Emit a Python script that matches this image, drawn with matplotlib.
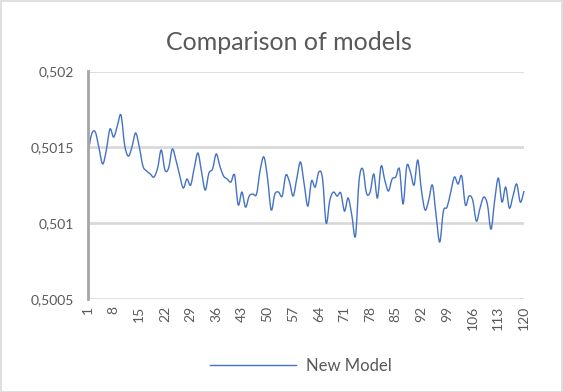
import matplotlib
matplotlib.use("Agg")
import matplotlib.pyplot as plt
from matplotlib.path import Path
from matplotlib.patches import PathPatch, Rectangle
from matplotlib.ticker import FuncFormatter, FixedLocator
from matplotlib.lines import Line2D
import numpy as np

title = "Comparison of models"
series_name = "New Model"
x_ticks = [1, 8, 15, 22, 29, 36, 43, 50, 57, 64, 71, 78, 85, 92, 99, 106, 113, 120]
y_ticks = [0.5005, 0.501, 0.5015, 0.502]

values = [
    0.501463, 0.501588, 0.501601, 0.501496, 0.501391, 0.501483, 0.501621, 0.501568, 0.501641, 0.501713,
    0.501516, 0.501443, 0.501503, 0.501595, 0.501503, 0.501377, 0.501345, 0.501325, 0.501305, 0.501364,
    0.501483, 0.501351, 0.501364, 0.501489, 0.501417, 0.501318, 0.501233, 0.501292, 0.501252, 0.501364,
    0.501463, 0.501338, 0.501219, 0.501331, 0.501358, 0.501457, 0.501377, 0.501312, 0.501292, 0.501272,
    0.501318, 0.501121, 0.501206, 0.501107, 0.501180, 0.501193, 0.501193, 0.501351, 0.501437, 0.501298,
    0.501088, 0.501193, 0.501206, 0.501180, 0.501318, 0.501272, 0.501180, 0.501298, 0.501404, 0.501259,
    0.501114, 0.501279, 0.501239, 0.501338, 0.501298, 0.501002, 0.501153, 0.501206, 0.501180, 0.501200,
    0.501081, 0.501167, 0.501055, 0.500916, 0.501285, 0.501358, 0.501200, 0.501206, 0.501325, 0.501167,
    0.501377, 0.501285, 0.501213, 0.501292, 0.501305, 0.501358, 0.501127, 0.501377, 0.501338, 0.501252,
    0.501417, 0.501219, 0.501088, 0.501153, 0.501252, 0.501055, 0.500877, 0.501081, 0.501107, 0.501206,
    0.501305, 0.501259, 0.501312, 0.501121, 0.501180, 0.501153, 0.501015, 0.501101, 0.501173, 0.501127,
    0.500962, 0.501153, 0.501298, 0.501140, 0.501239, 0.501101, 0.501180, 0.501259, 0.501140, 0.501213,
]
categories = list(range(1, len(values) + 1))

W, H = 563, 392
fig = plt.figure(figsize=(W / 100, H / 100), dpi=100)
font = "Lato"
text_color = "#595959"
line_color = "#4472C4"
grid_color = "#D9D9D9"

# chart border
fig.patches.append(Rectangle((0.5 / W, 0.5 / H), 1 - 1.5 / W, 1 - 1.5 / H, transform=fig.transFigure,
                             fill=False, edgecolor=grid_color, linewidth=1.2))

left, right, top, bottom = 88, 524, 71.5, 299.3
ax = fig.add_axes([left / W, 1 - bottom / H, (right - left) / W, (bottom - top) / H])
ax.set_xlim(1, 120)
ax.set_ylim(0.5005, 0.502)

# smoothed line (Excel-style Bezier)
xs = np.array(categories, dtype=float)
ys = np.array(values)
verts = [(xs[0], ys[0])]
codes = [Path.MOVETO]
n = len(xs)
for i in range(n - 1):
    p0 = np.array([xs[max(i - 1, 0)], ys[max(i - 1, 0)]])
    p1 = np.array([xs[i], ys[i]])
    p2 = np.array([xs[i + 1], ys[i + 1]])
    p3 = np.array([xs[min(i + 2, n - 1)], ys[min(i + 2, n - 1)]])
    c1 = p1 + (p2 - p0) / 6.0
    c2 = p2 - (p3 - p1) / 6.0
    verts += [tuple(c1), tuple(c2), tuple(p2)]
    codes += [Path.CURVE4] * 3
ax.add_patch(PathPatch(Path(verts, codes), facecolor="none", edgecolor=line_color, linewidth=1.0,
                       zorder=3, clip_on=False))

ax.yaxis.set_major_locator(FixedLocator(y_ticks))
ax.yaxis.set_major_formatter(FuncFormatter(lambda v, p: f"{v:g}".replace(".", ",")))
ax.xaxis.set_major_locator(FixedLocator(x_ticks))
ax.set_xticklabels([str(t) for t in x_ticks], rotation=90, fontfamily=font, fontsize=10, color=text_color)
for lab in ax.get_yticklabels():
    lab.set_fontfamily(font)
    lab.set_fontsize(10)
    lab.set_color(text_color)
ax.tick_params(axis="both", length=0)
ax.tick_params(axis="y", pad=10)
ax.tick_params(axis="x", pad=5)
ax.grid(axis="y", color=grid_color, linewidth=2)
ax.set_axisbelow(True)
for s in ["top", "right", "bottom"]:
    ax.spines[s].set_visible(False)
ax.spines["left"].set_color("#A6A6A6")
ax.spines["left"].set_linewidth(2)
ax.spines["left"].set_zorder(4)

fig.text(289 / W, 1 - 42 / H, title, ha="center", va="center", fontsize=18, fontweight="normal",
         fontfamily=font, color=text_color)

handle = Line2D([], [], color=line_color, linewidth=1.0)
fig.legend([handle], [series_name], loc="center", bbox_to_anchor=(301 / W, 1 - 366 / H), frameon=False,
           handlelength=5.2, handletextpad=0.6, prop={"family": font, "size": 12}, labelcolor=text_color)

fig.savefig("out.png", dpi=100)
